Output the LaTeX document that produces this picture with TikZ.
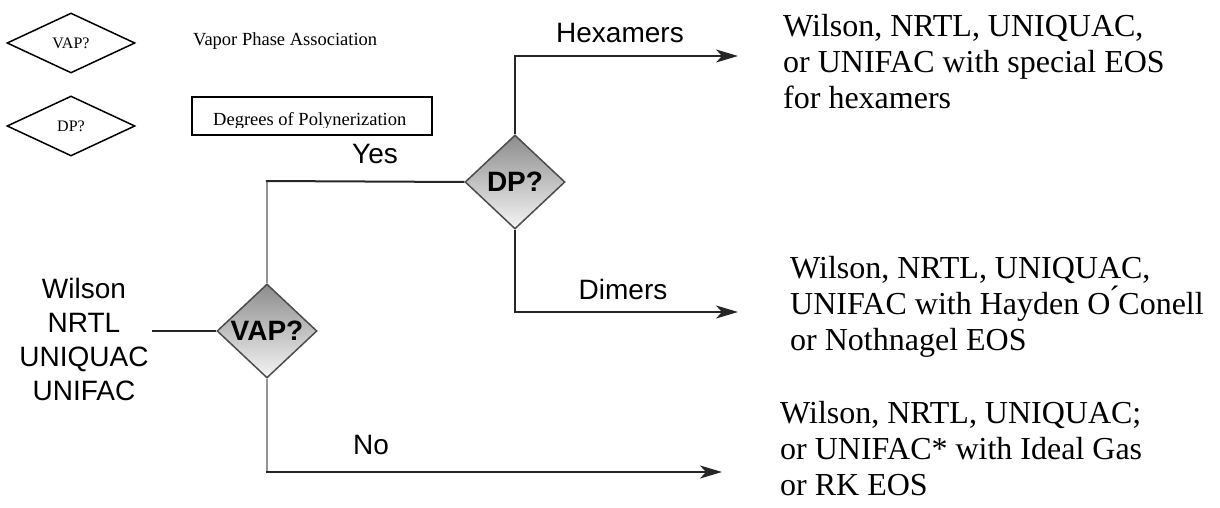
\documentclass[tikz,border=0pt]{standalone}
\usepackage{fontspec}
\setmainfont{Liberation Serif}
\setsansfont{Liberation Sans}
\usetikzlibrary{shapes.geometric,arrows.meta}

\tikzset{
  decision/.style={diamond, draw=black!70, line width=1.5pt, inner sep=0pt,
    minimum width=100pt, minimum height=94pt, top color=black!45, bottom color=black!4,
    font=\sffamily\bfseries\fontsize{28}{30}\selectfont},
  keyshape/.style={diamond, draw=black, line width=1.5pt, inner sep=0pt, fill=white,
    minimum width=128pt, minimum height=60pt, font=\fontsize{16}{18}\selectfont},
  keytext/.style={inner sep=0pt, anchor=base west, font=\fontsize{18.5}{20}\selectfont},
  branch/.style={inner sep=0pt, font=\sffamily\fontsize{28}{32}\selectfont},
  % multi-line nodes: the base anchor sits on the last line
  result/.style={inner sep=0pt, anchor=base west, align=left,
    font=\fontsize{32}{36}\selectfont},
  mainline/.style={draw=black!85, line width=2pt},
  sideline/.style={draw=black!42, line width=2.4pt},
  flow/.style={mainline, -{Stealth[length=22pt, width=13pt, inset=6pt]}}
}

\begin{document}
\begin{tikzpicture}[x=1pt, y=-1pt]
  \useasboundingbox (0,0) rectangle (1220,508);

  % key in the upper left corner
  \node[keyshape] (kvap) at (71,43) {VAP?};
  \node[keytext] (kvaptext) at (193,46) {Vapor Phase Association};
  \node[keyshape] (kdp) at (71,126) {\raisebox{-4pt}{DP?}};
  \node[draw=black, line width=1.5pt, minimum width=240pt, minimum height=38pt,
    inner sep=0pt] (kdpbox) at (312,116) {};
  \begin{scope}
    \clip (190,95) rectangle (434,127.5);
    \node[keytext] (kdptext) at (213,125) {Degrees of Polynerization};
  \end{scope}

  % decisions
  \node[decision] (vap) at (267,331) {VAP?};
  \node[decision] (dp) at (515,182) {DP?};

  % starting models
  \node[branch, align=center, anchor=base, font=\sffamily\fontsize{28}{34}\selectfont,
    inner sep=3pt] (models) at (84,400) {Wilson\\NRTL\\UNIQUAC\\UNIFAC};

  % outcomes
  \node[result] (hex) at (783,109)
    {Wilson, NRTL, UNIQUAC,\\or UNIFAC with special EOS\\for hexamers};
  \begin{scope}
    \clip (760,240) rectangle (1220,356);
    \node[result] (dim) at (790,350)
      {Wilson, NRTL, UNIQUAC,\\UNIFAC with Hayden O\'{}Conell\\or Nothnagel EOS};
  \end{scope}
  \node[result] (ideal) at (780,495)
    {Wilson, NRTL, UNIQUAC;\\or UNIFAC* with Ideal Gas\\or RK EOS};

  % arrow ends and corners
  \coordinate (yescorner) at (267,181);
  \coordinate (nocorner) at (267,472);
  \coordinate (hexend) at (738,56);
  \coordinate (dimend) at (738,312);
  \coordinate (noend) at (722,472);

  % connectors
  \draw[mainline] (models.east |- vap.west) -- (vap.west);
  \draw[sideline] (vap.north) -- (yescorner);
  \draw[mainline] ([xshift=-1.2pt]yescorner) -- (dp.west);
  \draw[flow] (dp.north) |- (hexend);
  \draw[flow] (dp.south) |- (dimend);
  \draw[sideline] (vap.south) -- (nocorner);
  \draw[flow] ([xshift=-1.2pt]nocorner) -- (noend);

  % branch labels
  \node[branch] (yes) at (375,154) {Yes};
  \node[branch] (hexlabel) at (620,33) {Hexamers};
  \node[branch] (dimlabel) at (623,289) {Dimers};
  \node[branch] (no) at (371,445) {No};
\end{tikzpicture}
\end{document}
